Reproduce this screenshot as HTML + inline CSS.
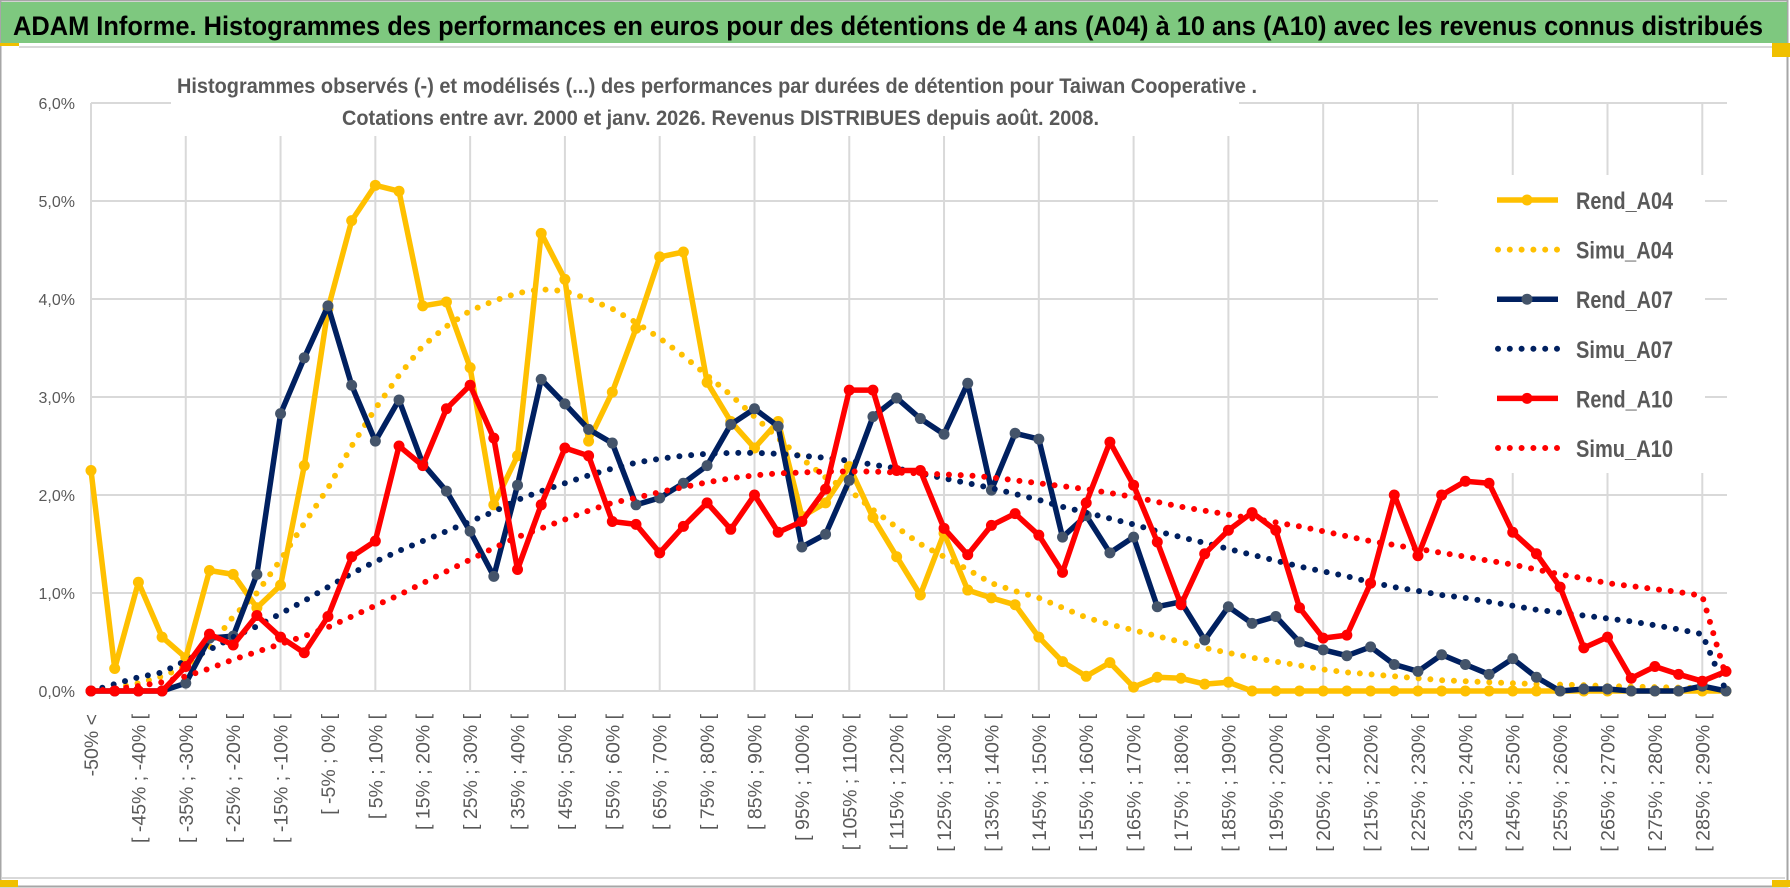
<!DOCTYPE html>
<html><head><meta charset="utf-8">
<style>
html,body{margin:0;padding:0;background:#fff;}
svg{display:block;}
text{font-family:"Liberation Sans",sans-serif;}
</style></head>
<body>
<svg id="chart" width="1790" height="888" viewBox="0 0 1790 888" xmlns="http://www.w3.org/2000/svg">
  <rect x="0" y="0" width="1790" height="888" fill="#fff"/>
  <rect x="0.5" y="0.5" width="1787" height="886" fill="none" stroke="#a6a6a6" stroke-width="2"/>
  <rect x="1" y="2" width="1786" height="41" fill="#7ec87f"/>
  <rect x="0" y="43" width="19" height="3" fill="#f0c000"/>
  <line x1="19" y1="47" x2="1787" y2="47" stroke="#d9d9d9" stroke-width="2"/>
  <rect x="1772" y="43" width="18" height="14" fill="#f0c000"/>
  <line x1="2" y1="878" x2="1785" y2="878" stroke="#d9d9d9" stroke-width="2"/>
  <rect x="0" y="880" width="18" height="7" fill="#f0c000"/>
  <rect x="1772" y="880" width="18" height="7" fill="#f0c000"/>
  <text x="13" y="35" font-size="27" font-weight="bold" fill="#000" textLength="1750" lengthAdjust="spacingAndGlyphs">ADAM Informe. Histogrammes des performances en euros pour des détentions de 4 ans (A04) à 10 ans (A10) avec les revenus connus distribués</text>
  <g id="grid"></g>
  <g id="yaxis"></g>
  <g id="xaxis"></g>
  <rect x="171" y="56" width="1068" height="80" fill="#fff"/>
  <text x="177" y="93" font-size="21" font-weight="bold" fill="#595959" textLength="1080" lengthAdjust="spacingAndGlyphs">Histogrammes observés (-) et modélisés (...) des performances par durées de détention pour Taiwan Cooperative .</text>
  <text x="342" y="125" font-size="21" font-weight="bold" fill="#595959" textLength="757" lengthAdjust="spacingAndGlyphs">Cotations entre avr. 2000 et janv. 2026. Revenus DISTRIBUES depuis août. 2008.</text>
  <g id="series"></g>
  <g id="legend"></g>
</svg>
<script>
const rendA04 = [2.25,0.23,1.11,0.55,0.34,1.23,1.19,0.85,1.08,2.3,3.9,4.8,5.16,5.1,3.93,3.97,3.3,1.9,2.4,4.67,4.2,2.55,3.05,3.7,4.43,4.48,3.15,2.75,2.48,2.75,1.78,1.92,2.29,1.77,1.37,0.98,1.61,1.03,0.95,0.88,0.55,0.3,0.15,0.29,0.04,0.14,0.13,0.07,0.09,0,0,0,0,0,0,0,0,0,0,0,0,0,0,0,0,0,0,0,0,0];
const simuA04 = [0,0.03,0.08,0.15,0.25,0.44,0.76,1.0,1.34,1.71,2.07,2.5,2.88,3.22,3.52,3.72,3.88,3.98,4.06,4.1,4.08,4.0,3.9,3.76,3.6,3.42,3.22,3.02,2.8,2.58,2.37,2.18,2.05,1.85,1.67,1.5,1.37,1.24,1.1,1.02,0.95,0.85,0.75,0.68,0.62,0.56,0.5,0.44,0.39,0.34,0.3,0.26,0.22,0.19,0.17,0.15,0.13,0.11,0.1,0.09,0.08,0.07,0.065,0.06,0.05,0.045,0.04,0.035,0.03,0.0];
const rendA07 = [0,0,0,0,0.08,0.54,0.56,1.19,2.83,3.4,3.93,3.12,2.55,2.97,2.32,2.04,1.63,1.17,2.1,3.18,2.93,2.67,2.53,1.9,1.97,2.12,2.3,2.72,2.88,2.7,1.47,1.6,2.15,2.8,2.99,2.78,2.62,3.14,2.05,2.63,2.57,1.57,1.79,1.41,1.57,0.86,0.91,0.52,0.86,0.69,0.76,0.5,0.42,0.36,0.45,0.27,0.2,0.37,0.27,0.17,0.33,0.14,0,0.02,0.02,0,0,0,0.05,0];
const simuA07 = [0,0.07,0.14,0.19,0.31,0.42,0.55,0.66,0.79,0.92,1.06,1.2,1.32,1.43,1.53,1.63,1.73,1.83,1.95,2.04,2.12,2.2,2.27,2.33,2.37,2.4,2.42,2.43,2.43,2.42,2.4,2.38,2.35,2.31,2.27,2.22,2.17,2.12,2.07,2.01,1.95,1.88,1.82,1.76,1.7,1.63,1.57,1.51,1.45,1.39,1.33,1.27,1.22,1.17,1.11,1.06,1.02,0.98,0.95,0.91,0.87,0.83,0.8,0.77,0.74,0.71,0.67,0.63,0.58,0];
const rendA10 = [0,0,0,0,0.25,0.58,0.47,0.77,0.55,0.39,0.76,1.37,1.53,2.5,2.3,2.88,3.12,2.58,1.24,1.9,2.48,2.4,1.73,1.7,1.41,1.68,1.92,1.65,2.0,1.62,1.73,2.06,3.07,3.07,2.25,2.25,1.66,1.39,1.69,1.81,1.59,1.21,1.92,2.54,2.1,1.52,0.88,1.4,1.64,1.82,1.64,0.85,0.54,0.57,1.1,2.0,1.38,2.0,2.14,2.12,1.62,1.4,1.06,0.44,0.55,0.13,0.25,0.17,0.1,0.2];
const simuA10 = [0,0.02,0.05,0.09,0.15,0.23,0.32,0.4,0.48,0.56,0.65,0.76,0.87,0.98,1.1,1.22,1.34,1.46,1.57,1.66,1.75,1.84,1.92,1.97,2.03,2.08,2.13,2.17,2.2,2.22,2.23,2.24,2.24,2.24,2.23,2.22,2.21,2.2,2.18,2.15,2.12,2.09,2.06,2.02,1.98,1.93,1.88,1.84,1.8,1.76,1.72,1.68,1.63,1.58,1.53,1.49,1.45,1.41,1.37,1.33,1.29,1.24,1.19,1.15,1.1,1.07,1.04,1.01,0.97,0.15];
const yTicks = ["0,0%","1,0%","2,0%","3,0%","4,0%","5,0%","6,0%"];
const yTickValues = [0,1,2,3,4,5,6];
const categories = (function(){const c=["-50% <"];for(let s=-50;s<=290;s+=5){c.push("[ "+s+"% ; "+(s+5)+"% [");}return c;})();

const NS="http://www.w3.org/2000/svg";
const X0=91, X1=1726, Y0=691, PXPER=98;
const N=categories.length;
function xs(i){return X0+i*(X1-X0)/(N-1);}
function ys(v){return Y0-v*PXPER;}
function mk(tag,attrs,parent){const e=document.createElementNS(NS,tag);for(const k in attrs)e.setAttribute(k,attrs[k]);parent.appendChild(e);return e;}

const grid=document.getElementById('grid');
yTickValues.forEach(function(v){
  const l=mk('line',{x1:X0,x2:1727,y1:ys(v),y2:ys(v),stroke:'#d9d9d9','stroke-width':2},grid);
  
  
});
for(let i=0;i<N;i+=4){
  const l=mk('line',{x1:xs(i),x2:xs(i),y1:ys(6),y2:Y0,stroke:'#d9d9d9','stroke-width':2},grid);
  
  
}
const yaxis=document.getElementById('yaxis');
yTickValues.forEach(function(v,k){
  const t=mk('text',{x:75,y:ys(v)+6,'text-anchor':'end','font-size':16,fill:'#595959'},yaxis);
  t.textContent=yTicks[k];
  
  
});
const xaxis=document.getElementById('xaxis');
for(let i=0;i<N;i+=2){
  const x=xs(i)+7;
  const t=mk('text',{x:0,y:0,'text-anchor':'end','font-size':19.5,fill:'#595959',transform:'translate('+x+',714) rotate(-90)'},xaxis);
  t.textContent=categories[i];
  
  
}
const series=document.getElementById('series');
function pts(arr){return arr.map(function(v,i){return xs(i).toFixed(1)+','+ys(v).toFixed(1);}).join(' ');}
function solid(arr,color,mcolor,name){
  const g=mk('g',{},series);
  
  
  mk('polyline',{points:pts(arr),fill:'none',stroke:color,'stroke-width':5.5,'stroke-linejoin':'round'},g);
  arr.forEach(function(v,i){
    const c=mk('circle',{cx:xs(i),cy:ys(v),r:5.5,fill:mcolor},g);
    
    
  });
}
function dotted(arr,color,name){
  const p=mk('polyline',{points:pts(arr),fill:'none',stroke:color,'stroke-width':6,'stroke-linecap':'round','stroke-dasharray':'0 11.8'},series);
  
  
}
solid(rendA04,'#ffc000','#ffc000','rend-a04-line');
dotted(simuA04,'#ffc000','simu-a04-line');
solid(rendA07,'#002060','#44546a','rend-a07-line');
dotted(simuA07,'#002060','simu-a07-line');
solid(rendA10,'#ff0000','#ff0000','rend-a10-line');
dotted(simuA10,'#ff0000','simu-a10-line');

const legend=document.getElementById('legend');
const lb=mk('rect',{x:1438,y:175,width:267,height:298,fill:'#fff'},legend);


const legNames=["Rend_A04","Simu_A04","Rend_A07","Simu_A07","Rend_A10","Simu_A10"];
const legColors=['#ffc000','#ffc000','#002060','#002060','#ff0000','#ff0000'];
const legMarker=['#ffc000',null,'#44546a',null,'#ff0000',null];
legNames.forEach(function(nm,k){
  const y=200+k*49.6;
  const g=mk('g',{},legend);
  
  
  if(legMarker[k]){
    mk('line',{x1:1497,x2:1558,y1:y,y2:y,stroke:legColors[k],'stroke-width':5.5},g);
    mk('circle',{cx:1527,cy:y,r:5.5,fill:legMarker[k]},g);
  } else {
    mk('line',{x1:1498,x2:1558,y1:y,y2:y,stroke:legColors[k],'stroke-width':6,'stroke-linecap':'round','stroke-dasharray':'0 11.8'},g);
  }
  const t=mk('text',{x:1576,y:y+9,'font-size':24,'font-weight':'bold',fill:'#595959',textLength:97,lengthAdjust:'spacingAndGlyphs'},g);
  t.textContent=nm;
});
</script>
</body></html>
